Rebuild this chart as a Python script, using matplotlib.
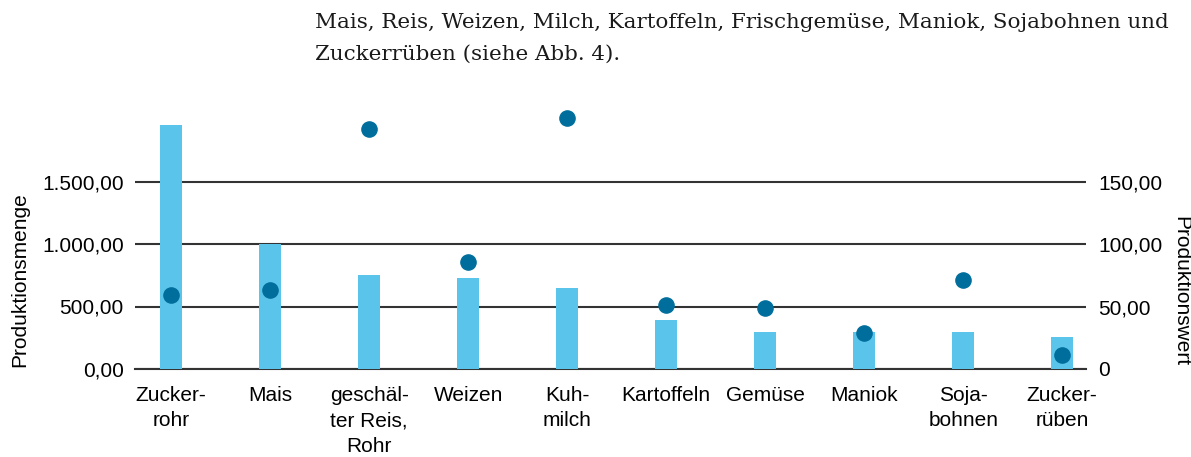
import numpy as np
import matplotlib
matplotlib.use("Agg")
import matplotlib.pyplot as plt
from matplotlib.ticker import FuncFormatter

# data
categories = ["Zucker-\nrohr", "Mais", "geschäl-\nter Reis,\nRohr", "Weizen", "Kuh-\nmilch",
              "Kartoffeln", "Gemüse", "Maniok", "Soja-\nbohnen", "Zucker-\nrüben"]
menge = [1950, 1000, 752, 728, 648, 392, 296, 296, 296, 256]   # Produktionsmenge (left)
wert = [59.2, 63.2, 191.8, 85.4, 201.0, 51.0, 48.5, 28.5, 71.2, 11.0]  # Produktionswert (right)
left_ticks = [0, 500, 1000, 1500]
right_ticks = [0, 50, 100, 150]
header = ["Mais, Reis, Weizen, Milch, Kartoffeln, Frischgemüse, Maniok, Sojabohnen und",
          "Zuckerrüben (siehe Abb. 4)."]

bar_color = "#5BC4EA"
dot_color = "#006E9C"
grid_color = "#333333"

plt.rcParams['font.family'] = ['Liberation Sans', 'DejaVu Sans']

W, H = 1191, 457
fig = plt.figure(figsize=(W / 100, H / 100), dpi=100)

def px_box(x0, y0, x1, y1):
    return [x0 / W, 1 - y1 / H, (x1 - x0) / W, (y1 - y0) / H]

ax = fig.add_axes(px_box(135, 119, 1086, 369))
x = np.arange(len(categories))

ax.bar(x, menge, width=0.222, color=bar_color, zorder=2)
ax.set_xlim(-0.364, 9.24)
ax.set_ylim(0, 2000)
ax.set_yticks(left_ticks)
ax.yaxis.grid(True, color=grid_color, linewidth=1.5, zorder=1)
ax.axhline(0, color=grid_color, linewidth=1.5, zorder=1, clip_on=False)
ax.set_axisbelow(True)

def de_fmt(v, pos):
    s = f"{v:,.2f}"
    return s.replace(",", "X").replace(".", ",").replace("X", ".")

ax.yaxis.set_major_formatter(FuncFormatter(de_fmt))
ax.set_xticks(x)
ax.set_xticklabels(categories, fontsize=15, linespacing=1.45)
ax.tick_params(axis="x", length=0, pad=12)
ax.tick_params(axis="y", length=0, pad=8, labelsize=15)
for s in ax.spines.values():
    s.set_visible(False)

ax2 = ax.twinx()
ax2.set_ylim(0, 200)
ax2.set_yticks(right_ticks)
ax2.yaxis.set_major_formatter(FuncFormatter(lambda v, p: "0" if v == 0 else de_fmt(v, p)))
ax2.tick_params(axis="y", length=0, pad=9, labelsize=15)
ax2.scatter(x, wert, s=120, color=dot_color, zorder=3, clip_on=False)
for s in ax2.spines.values():
    s.set_visible(False)

fig.text(20 / W, 1 - 280 / H, "Produktionsmenge", rotation=90, fontsize=15,
         ha="center", va="center")
fig.text(1181 / W, 1 - 291 / H, "Produktionswert", rotation=-90, fontsize=15,
         ha="center", va="center")

fig.text(315 / W, 1 - 28 / H, header[0], family="DejaVu Serif", fontsize=15.4,
         ha="left", va="baseline", color="#1a1a1a")
fig.text(315 / W, 1 - 60 / H, header[1], family="DejaVu Serif", fontsize=15.4,
         ha="left", va="baseline", color="#1a1a1a")

fig.savefig("out.png", dpi=100)
